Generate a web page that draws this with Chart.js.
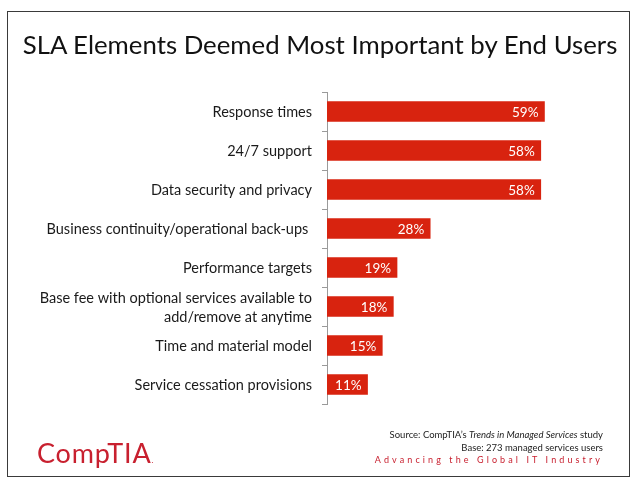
<!DOCTYPE html>
<html>
<head>
<meta charset="utf-8">
<script src="https://cdn.jsdelivr.net/npm/chart.js@4/dist/chart.umd.min.js"></script>
<style>
  html, body { margin: 0; padding: 0; background: #fff; }
  #wrap { position: relative; width: 640px; height: 490px; overflow: hidden; font-family: Lato, "Open Sans", sans-serif; }
  #frame { position: absolute; left: 7px; top: 11px; width: 623px; height: 466px; border: 1px solid #3a3a3a; box-sizing: border-box; }
  #title { position: absolute; left: 0; top: 29px; width: 640px; text-align: center; font-size: 25.8px; color: #111; white-space: nowrap; }
  #logo { position: absolute; left: 37px; top: 436px; font-size: 27px; color: #c8202f; letter-spacing: 0.8px; }
  #src { position: absolute; right: 37px; top: 429px; text-align: right; font-size: 9.5px; line-height: 12.5px; color: #222; white-space: nowrap; }
  #src .tag { color: #c8202f; letter-spacing: 3.1px; font-size: 9px; }
  canvas { position: absolute; left: 0; top: 0; }
</style>
</head>
<body>
<div id="wrap">
  <canvas id="c" width="640" height="490"></canvas>
  <div id="frame"></div>
  <div id="title">SLA Elements Deemed Most Important by End Users</div>
  <div id="logo">CompTIA<span style="font-size:8px">.</span></div>
  <div id="src">Source: CompTIA’s <i>Trends in Managed Services</i> study<br>Base: 273 managed services users<br><span class="tag">Advancing the Global IT Industry</span></div>
</div>
<script>
const categories = [
  'Response times',
  '24/7 support',
  'Data security and privacy',
  'Business continuity/operational back-ups ',
  'Performance targets',
  ['Base fee with optional services available to', 'add/remove at anytime'],
  'Time and material model',
  'Service cessation provisions'
];
const values = [59, 58, 58, 28, 19, 18, 15, 11];
const valueLabels = ['59%', '58%', '58%', '28%', '19%', '18%', '15%', '11%'];

const barLabelPlugin = {
  id: 'barLabels',
  afterDatasetsDraw(chart) {
    const ctx = chart.ctx;
    const meta = chart.getDatasetMeta(0);
    ctx.save();
    ctx.fillStyle = '#ffffff';
    ctx.font = '13.5px Lato, "Open Sans", sans-serif';
    ctx.textAlign = 'right';
    ctx.textBaseline = 'middle';
    meta.data.forEach((bar, i) => {
      ctx.fillText(valueLabels[i], bar.x - 6, bar.y + 1);
    });
    ctx.restore();
  }
};

new Chart(document.getElementById('c'), {
  type: 'bar',
  data: {
    labels: categories,
    datasets: [{
      data: values,
      backgroundColor: '#d8230f',
      borderWidth: 0,
      barThickness: 20
    }]
  },
  options: {
    indexAxis: 'y',
    responsive: false,
    animation: false,
    layout: { padding: { left: 0, right: 55, top: 92, bottom: 86 } },
    plugins: { legend: { display: false }, tooltip: { enabled: false }, title: { display: false } },
    scales: {
      x: { display: false, min: 0, max: 70 },
      y: {
        afterFit(s) { s.width = 327; },
        border: { display: true, color: '#9a9a9a', width: 1 },
        grid: { display: true, drawOnChartArea: false, drawTicks: true, tickLength: 5, color: '#9a9a9a', offset: true },
        ticks: {
          autoSkip: false,
          color: '#1a1a1a',
          padding: 10,
          labelOffset: 1,
          font: { family: 'Lato, "Open Sans", sans-serif', size: 14.5, lineHeight: 1.3 }
        }
      }
    }
  },
  plugins: [barLabelPlugin]
});
</script>
</body>
</html>
